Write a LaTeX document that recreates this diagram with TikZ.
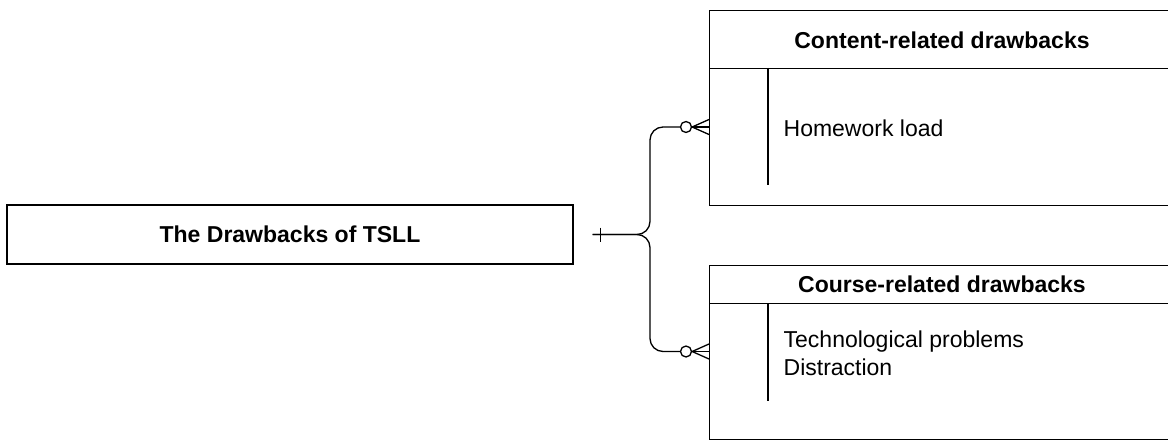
\documentclass[tikz,border=0pt]{standalone}
\usepackage{fontspec}
\setmainfont{Liberation Sans}
\begin{document}
\begin{tikzpicture}[x=1pt,y=1pt,line width=1.3pt,
  box/.style={draw,inner sep=0pt},
  ttl/.style={font=\fontsize{23}{28}\selectfont\bfseries},
  bodytxt/.style={font=\fontsize{23}{28}\selectfont,align=left,inner sep=0pt,anchor=west},
  rel/.style={line width=1.3pt,rounded corners=13pt}]
\useasboundingbox (0,0) rectangle (1168,-441);
\clip (0,0) rectangle (1168,-441);
% left entity
\node[box,minimum width=566pt,minimum height=59pt,ttl] (L) at (290,-234.5) {The Drawbacks of TSLL};
% top entity
\node[box,anchor=north west,minimum width=470pt,minimum height=58pt] (H1) at (709,-10) {};
\node[ttl] (H1t) at (942,-40) {Content-related drawbacks};
\node[box,anchor=north west,minimum width=470pt,minimum height=137pt] (B1) at (709,-68) {};
\coordinate (s1a) at (768,-68);
\coordinate (s1b) at (768,-185);
\draw (s1a) -- (s1b);
\node[bodytxt] (T1) at (783,-128) {Homework load};
% bottom entity
\node[box,anchor=north west,minimum width=470pt,minimum height=38pt] (H2) at (709,-265) {};
\node[ttl] (H2t) at (942,-284) {Course-related drawbacks};
\node[box,anchor=north west,minimum width=470pt,minimum height=136pt] (B2) at (709,-303) {};
\coordinate (s2a) at (768,-303);
\coordinate (s2b) at (768,-401);
\draw (s2a) -- (s2b);
\node[bodytxt] (T2) at (783,-353) {Technological problems\\Distraction};
% connector
\coordinate (st) at ([xshift=19pt]L.east);
\coordinate (c1) at (686,-127);
\coordinate (c2) at (686,-351.5);
\node[draw,circle,minimum size=11pt,inner sep=0pt,line width=1.3pt] (o1) at (c1) {};
\node[draw,circle,minimum size=11pt,inner sep=0pt,line width=1.3pt] (o2) at (c2) {};
\draw[rel] (st) -- (650,-234.5) -- (650,-127) -- (o1.west);
\draw[rel] (st) -- (650,-234.5) -- (650,-351.5) -- (o2.west);
\draw ([xshift=8pt]st) ++(0,7) -- ++(0,-14);
% crow's feet
\draw (o1.east) -- (709,-127);
\draw (o1.east) -- (709,-119.5);
\draw (o1.east) -- (709,-134.5);
\draw (o2.east) -- (709,-351.5);
\draw (o2.east) -- (709,-344);
\draw (o2.east) -- (709,-359);
\end{tikzpicture}
\end{document}
